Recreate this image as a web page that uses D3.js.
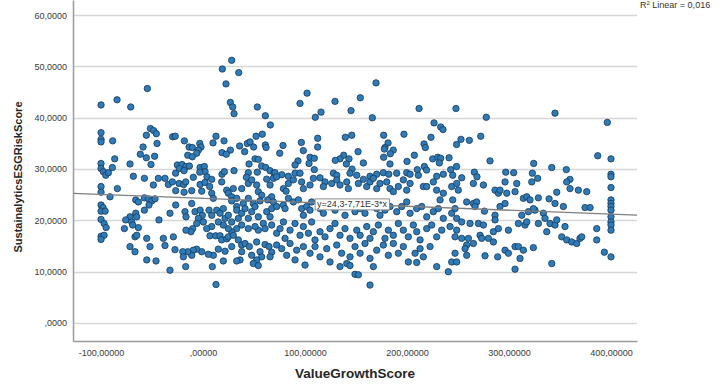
<!DOCTYPE html>
<html>
<head>
<meta charset="utf-8">
<script src="https://cdn.jsdelivr.net/npm/d3@7"></script>
<style>
  html, body { margin: 0; padding: 0; background: #fff; }
  svg { display: block; }
  text { font-family: "Liberation Sans", Arial, sans-serif; }
</style>
</head>
<body>
<svg id="chart" width="727" height="385"></svg>
<script>
// ValueGrowthScore (x) vs SustainalyticsESGRiskScore (y), one pair per fund
const scores = [
  // upper band
  [28.1,51.2],[18.9,49.5],[35,48.8],[22.5,46.6],[-54.6,45.7],[-100,42.5],[-84.3,43.5],[-70.9,42.1],
  [26.8,43.0],[29.1,42.1],[30.4,40.8],[53.2,42.1],[61.1,40.4],[66,38.6],[-100,37.1],[-100,35.8],
  [-100,35.3],[-88.6,35.5],[-51.6,37.9],[-48.4,37.5],[-45.8,36.9],[-55.6,36.6],[-45.1,35.0],[-58.8,34.3],
  [-61.5,32.9],[-55.6,32.2],[-47.5,32.5],[-86.6,32.0],[-100,31.1],[-71.6,31.0],[-51,30.9],[-100,30.1],
  [-97.7,29.5],[-95.4,28.8],[-92.8,29.3],[-88.9,30.3],[-68.3,28.6],[-57.5,28.2],[-43.8,28.2],[-37.3,28.2],
  [-29.8,36.3],[-27.2,36.4],[-18.3,35.5],[-13.7,34.3],[-10.5,34.2],[-3.2,35.0],[-2,34.3],[-4.6,33.7],
  [-6.2,33.1],[-15,32.7],[-10.5,32.4],[9.8,35.1],[12.7,36.4],[20.6,35.5],[26.8,33.7],[18.6,33.2],
  [22.8,32.9],[35.9,34.5],[43.4,35.0],[46.1,35.3],[49.6,34.3],[40.8,33.4],[52,36.4],[58.1,36.8],
  [61.1,34.7],[61.8,34.2],[-25.2,30.8],[-20.6,30.9],[-16.7,30.5],[-13.4,30.6],[-23.2,30.1],[-2.9,30.3],
  [1.3,30.5],[2,29.5],[-3.2,29.4],[-26.9,29.2],[-18.6,29.7],[-9.5,28.4],[3.9,28.5],[18.6,29.0],
  [20.9,29.5],[30.4,29.7],[45.1,31.0],[51,32.0],[54.2,31.9],[57.5,30.6],[44.4,29.3],[53.2,29.4],
  [42.5,28.4],[61.5,30.3],[65.7,29.7],[69.6,29.2],
  [169.6,46.8],[102,44.8],[95.1,42.8],[129.4,43.2],[154.2,43.9],[115.7,41.1],[110.1,40.1],[145.1,41.4],
  [166,40.0],[211.8,41.8],[248,41.8],[78.4,34.6],[75.2,33.1],[96.4,35.2],[98.3,33.6],[112.4,36.0],
  [112.4,34.3],[104.9,32.3],[109.1,32.1],[103.9,31.1],[93.1,31.6],[90.2,30.8],[109.1,29.9],[139.5,36.2],
  [145.8,36.6],[137.9,32.7],[134.3,32.0],[129.7,31.7],[143.1,32.0],[140.5,31.0],[146.1,30.0],[152,33.4],
  [157.2,31.2],[177.1,36.6],[181.4,35.1],[178.4,34.2],[177.8,33.9],[186.5,33.7],[183.6,33.0],[177.1,32.3],
  [183.3,31.0],[197,36.8],[200,31.5],[207.2,32.7],[216.7,34.9],[218,34.2],[223.5,36.2],[226.5,39.0],
  [233,38.2],[235.3,37.7],[225.2,32.0],[230.1,32.3],[233,32.1],[231.7,31.2],[241.2,32.2],[248.6,34.8],
  [217,30.5],[210.1,29.9],[219.2,29.8],[242.8,29.9],[248.6,30.5],
  [70.6,29.3],[77.2,28.9],[83.6,28.6],[90.2,29.2],[95.1,29.2],[114.7,28.3],[127.8,29.2],[131.1,28.8],
  [144.1,29.2],[150.7,28.8],[163.7,28.6],[170.3,29.0],[176.8,29.3],[182.1,29.0],[189.9,29.2],[199.7,29.3],
  [203,29.0],[211.1,28.8],[229.1,28.6],[235.6,29.0],[244.8,28.8],
  [277.7,40.1],[345.1,40.9],[396.4,39.1],[252.9,35.8],[261.1,35.6],[272.3,36.4],[281.4,31.6],[324.2,31.1],
  [341.9,30.3],[356.2,29.9],[387,32.6],[400,32.0],[266,29.4],[268.6,28.5],[253.6,28.3],
  [296.8,29.4],[304.6,29.3],[322.9,29.2],[328.1,28.2],[400,29.0],[400,28.5],[359.8,28.0],
  // left block, middle and lower band
  [-100,26.6],[-100,25.5],[-100,23.0],[-98,22.5],[-100,21.8],[-96,21.8],[-100,20.2],[-97,19.4],
  [-95,18.6],[-100,16.9],[-97,17.1],[-100,16.3],[-84,26.2],[-91.2,24.6],
  [-48.7,26.9],[-34.0,27.0],[-30.1,27.5],[-26.8,25.8],[-23.5,27.2],[-19.0,27.0],[-17.0,27.5],[-18.6,25.5],
  [-11.1,25.8],[-2.9,27.0],[-1.3,25.7],[1.9,27.4],[6.5,26.6],[8.5,28.0],[8.5,25.3],[10.1,24.3],
  [18.3,27.5],[23.2,25.9],[24.8,25.3],[28.1,24.6],[29.7,26.2],[33.0,24.3],[37.9,26.2],[44.4,27.2],
  [47.7,27.9],[52.6,26.9],[54.2,25.6],[57.5,24.9],[62.4,28.05],[65.7,26.9],[67.3,24.6],[63.4,24.0],
  [55.9,23.8],[49.3,23.3],[44.4,24.3],[39.5,23.3],[33.0,22.7],[28.1,23.8],
  [-66.0,24.0],[-63.4,23.6],[-57.5,24.4],[-53.6,24.2],[-50.3,23.8],[-47.1,24.2],[-53.0,23.0],[-57.5,22.0],
  [-66.0,21.4],[-71.6,20.7],[-75.8,20.1],[-69.9,19.7],[-65.0,20.7],[-63.4,18.6],[-77.1,18.4],[-69.0,19.1],
  [-43.2,20.1],[-32.4,21.4],[-26.8,23.0],[-17.7,21.7],[-16.7,20.7],[-11.1,23.3],[-7.9,21.7],[-2.9,22.0],
  [-0.7,21.0],[-4.6,20.4],[-6.2,19.4],[0.3,19.7],[5.9,22.0],[8.5,21.0],[13.4,22.0],[16.7,21.4],
  [19.9,22.3],[21.6,20.4],[24.8,21.0],[28.1,19.7],[33.0,22.0],[34.6,20.4],[37.9,21.4],[41.2,22.3],
  [44.4,20.4],[47.7,21.7],[51.0,22.7],[54.2,20.7],[59.1,19.4],[62.4,21.7],[65.7,20.7],[67.3,19.1],
  [60.8,18.4],[54.2,18.1],[51.0,18.8],[44.4,18.4],[37.9,19.1],[33.0,18.4],[28.1,17.8],[24.8,18.4],
  [19.9,19.1],[15.0,19.7],[8.5,18.8],[3.6,18.4],[-10.2,18.4],[-11.8,17.8],[-16.7,18.1],
  [-66.7,16.8],[-65.0,17.1],[-55.2,16.5],[-38.9,16.5],[-29.1,16.8],[6.8,17.0],[12.4,17.0],[16.7,17.0],
  [18.3,16.2],[23.2,16.4],[24.8,16.8],[29.7,17.1],[34.6,16.2],[37.9,15.2],[41.2,15.5],[45.4,14.9],
  [47.7,13.2],[52.6,15.8],[55.9,13.9],[60.8,15.3],[64.7,14.9],[67.3,13.8],[65.7,12.9],[57.5,12.9],
  [52.6,12.3],[49.3,11.6],[54.2,11.2],[37.9,13.9],[36.3,12.3],[33.0,12.1],[28.1,14.9],[21.6,14.0],
  [15.0,14.4],[10.1,13.2],[5.2,13.4],[-1.3,13.9],[-6.2,14.4],[-9.5,14.2],[-11.1,13.2],[-15.0,13.9],
  [-19.9,13.9],[-19.3,12.9],[-27.5,14.3],[-37.3,15.1],[-52.0,14.9],[-71.6,14.9],[-66.7,13.9],[-55.2,12.3],
  [-46.1,12.1],[-32.4,10.3],[-17.0,11.0],[9.1,11.0],[19.9,12.1],[12.7,7.5],
  // centre block
  [69.0,28.2],[72.2,28.5],[78.8,26.2],[81.4,25.7],[83.7,27.2],[88.6,27.9],[96.7,27.5],[98.4,26.2],
  [104.9,26.9],[108.2,28.2],[119.6,27.5],[118.0,26.6],[126.2,27.2],[131.1,27.9],[134.3,26.9],[140.9,27.5],
  [142.5,26.2],[152.3,27.2],[157.2,28.0],[160.5,26.6],[163.7,27.5],[167.0,28.2],[170.3,26.2],[173.5,27.2],
  [180.1,27.5],[183.3,26.2],[186.6,25.6],[191.5,26.6],[196.4,27.9],[199.7,25.9],[203.0,27.2],[216.0,26.6],
  [219.3,26.6],[225.8,27.5],[229.1,25.9],[232.4,24.0],[235.6,25.3],[243.8,26.6],[244.8,24.0],[250.3,25.9],
  [69.0,23.6],[67.3,22.3],[72.2,22.7],[78.8,23.0],[80.4,22.3],[83.7,24.3],[88.6,23.6],[93.5,24.0],
  [96.7,22.3],[98.4,21.0],[101.6,22.7],[104.9,22.0],[106.5,23.6],[114.7,22.3],[118.0,21.4],[122.9,23.0],
  [129.4,22.0],[134.3,22.7],[139.2,21.0],[144.1,23.0],[149.0,21.7],[154.0,22.3],[158.8,21.4],[163.7,23.0],
  [170.3,22.3],[173.5,21.0],[178.4,22.0],[183.3,22.7],[189.9,21.7],[194.8,22.7],[199.7,23.6],[203.0,21.4],
  [209.5,22.3],[214.4,22.7],[219.3,20.7],[225.8,21.7],[230.7,22.3],[235.6,20.4],[243.8,21.4],[248.7,20.4],
  [72.2,17.5],[75.5,18.4],[78.8,19.7],[80.4,16.5],[85.3,18.1],[90.2,19.4],[95.1,17.1],[98.4,18.8],
  [103.3,17.5],[106.5,19.7],[109.8,16.2],[114.7,17.8],[119.6,16.8],[124.5,18.4],[129.4,19.4],[134.3,17.1],
  [139.2,18.4],[144.1,16.5],[150.7,18.1],[154.0,17.1],[160.5,18.8],[163.7,16.5],[167.0,17.8],[171.9,19.1],
  [178.4,16.5],[181.7,18.1],[186.6,17.1],[191.5,19.4],[196.4,18.1],[201.3,16.8],[206.2,19.1],[209.5,17.8],
  [212.8,16.2],[219.3,18.4],[224.2,19.1],[229.1,16.8],[234.0,18.1],[242.2,18.8],[247.1,16.8],
  [72.2,15.2],[77.1,14.5],[82.0,13.2],[85.3,15.5],[90.2,12.3],[91.8,14.2],[98.4,14.9],[100.0,11.3],
  [104.9,13.6],[109.8,14.9],[114.7,12.9],[121.3,14.5],[124.5,11.9],[131.1,15.2],[135.9,13.6],[140.9,11.6],
  [144.1,12.9],[149.0,14.9],[154.0,13.6],[158.8,15.5],[163.7,12.6],[170.3,14.2],[176.8,15.2],[181.7,13.2],
  [186.6,15.5],[191.5,13.6],[196.4,14.9],[201.3,11.9],[207.9,13.6],[209.5,11.8],[212.8,14.5],[216.0,12.9],
  [222.6,14.9],[229.1,11.0],[240.5,10.0],[243.8,11.9],[247.1,13.6],
  [134.3,11.0],[144.1,11.2],[149.0,9.5],[152.3,9.4],[167.0,11.0],[163.7,7.4],
  // right block
  [248.7,27.2],[265.1,27.2],[274.9,26.9],[286.3,25.9],[289.6,25.3],[291.2,25.9],[297.8,25.3],[296.1,27.5],
  [307.6,27.2],[305.9,25.6],[314.1,24.3],[317.4,24.6],[320.6,24.0],[322.3,27.5],[328.8,24.4],[325.5,22.0],
  [339.3,24.2],[346.8,25.5],[345.1,23.3],[353.3,22.7],[356.6,27.5],[359.8,26.2],[368.0,25.9],[374.5,22.5],
  [379.5,22.5],[376.2,25.6],
  [400,26.4],[400,24.0],[400,23.3],[400,22.7],[400,22.0],[400,20.7],[400,19.7],[400,19.1],[400,18.1],
  [386.0,18.4],[386.0,16.2],[393.5,13.8],[400,12.9],
  [258.5,23.6],[265.1,23.3],[268.3,23.6],[266.7,22.7],[275.9,21.8],[286.3,21.0],[286.3,20.1],[291.2,22.7],
  [296.1,23.3],[247.1,22.3],[253.6,19.7],[261.8,19.4],[270.0,19.4],[274.9,19.1],[284.7,17.8],[289.6,18.4],
  [299.4,18.1],[309.2,19.4],[312.5,21.0],[315.7,19.1],[319.0,21.7],[317.4,19.7],[323.9,22.3],[328.8,19.4],
  [333.7,21.4],[335.3,20.4],[337.0,17.8],[340.2,19.4],[345.1,19.1],[346.8,20.1],[354.9,18.8],[248.7,18.1],
  [253.6,16.5],[260.2,16.5],[258.5,15.2],[265.1,15.5],[271.6,17.1],[273.2,16.5],[279.8,16.5],[284.7,15.8],
  [296.1,14.2],[299.4,13.6],[305.9,14.9],[309.2,14.9],[314.1,14.2],[323.9,14.7],[310.8,12.6],[305.9,10.5],
  [256.9,14.5],[258.5,13.2],[248.7,11.9],[276.5,13.1],[288.9,12.9],[341.9,11.6],[351.7,16.8],[356.6,16.2],
  [361.5,15.8],[366.4,15.5],[369.6,16.5],[371.3,16.8]
];

// Fitted line reported for the cloud: y = 24,3 - 7,71E-3 * x, R² = 0,016
const fitIntercept = 24.3;
const fitSlope = -7.71e-3;
const fitLabel = "y=24,3-7,71E-3*x";
const rSquaredLabel = "0,016";

const xTicks = [-100, 0, 100, 200, 300, 400];
const yTicks = [0, 10, 20, 30, 40, 50, 60];
const xTitle = "ValueGrowthScore";
const yTitle = "SustainalyticsESGRiskScore";

const svg = d3.select("#chart");
const plot = { left: 73, right: 637, top: 0, bottom: 341 };

const x = d3.scaleLinear().domain([-127.5, 425.5]).range([plot.left, plot.right]);
const y = d3.scaleLinear().domain([-3.5, 62.95]).range([plot.bottom, plot.top]);

// Comma decimals, leading zero dropped as in the statistics package
const fmt = (digits) => (d) => {
  let s = d.toFixed(digits).replace(".", ",");
  if (s.startsWith("0,")) s = s.slice(1);
  return s;
};

// horizontal gridlines
svg.append("g")
  .selectAll("line")
  .data(yTicks)
  .join("line")
  .attr("x1", plot.left).attr("x2", plot.right)
  .attr("y1", d => Math.round(y(d)) + 0.5).attr("y2", d => Math.round(y(d)) + 0.5)
  .attr("stroke", "#d6d6d6").attr("stroke-width", 1.3);

// axes
const xAxis = d3.axisBottom(x).tickValues(xTicks).tickFormat(fmt(5)).tickSize(0).tickPadding(9);
const yAxis = d3.axisLeft(y).tickValues(yTicks).tickFormat(fmt(4)).tickSize(0).tickPadding(6);

const gx = svg.append("g").attr("transform", `translate(0,${plot.bottom})`).call(xAxis);
const gy = svg.append("g").attr("transform", `translate(${plot.left},0)`).call(yAxis);
[gx, gy].forEach(g => {
  g.select(".domain").attr("stroke", "#9a9a9a").attr("stroke-width", 1.5);
  g.selectAll("text").attr("fill", "#3a3a3a").style("font-size", "9px")
    .style("font-family", "'Liberation Sans', Arial, sans-serif");
});

// points
svg.append("g")
  .selectAll("circle")
  .data(scores)
  .join("circle")
  .attr("cx", d => x(d[0]))
  .attr("cy", d => y(d[1]))
  .attr("r", 3.2)
  .attr("fill", "#2f7bb7")
  .attr("stroke", "#173a5c")
  .attr("stroke-width", 0.8);

// fit line across the full x range
const [xa, xb] = x.domain();
svg.append("line")
  .attr("x1", x(xa)).attr("y1", y(fitIntercept + fitSlope * xa))
  .attr("x2", x(xb)).attr("y2", y(fitIntercept + fitSlope * xb))
  .attr("stroke", "#7f7f7f").attr("stroke-width", 1.3);

// equation label centred on the line
const xm = (xa + xb) / 2;
const lab = svg.append("g").attr("transform", `translate(${x(xm) - 3},${y(fitIntercept + fitSlope * xm)})`);
const labText = lab.append("text")
  .attr("text-anchor", "middle").attr("dy", "0.35em")
  .attr("fill", "#333").style("font-size", "9px")
  .text(fitLabel);
const bb = labText.node().getBBox();
lab.insert("rect", "text")
  .attr("x", bb.x - 2).attr("y", bb.y - 0.5)
  .attr("width", bb.width + 4).attr("height", bb.height + 1)
  .attr("fill", "#fff").attr("stroke", "#8c8c8c").attr("stroke-width", 1);

// R² annotation
const r2 = svg.append("text").attr("x", 640).attr("y", 8).attr("fill", "#333").style("font-size", "9px");
r2.append("tspan").text("R");
r2.append("tspan").attr("dy", -3).style("font-size", "6px").text("2");
r2.append("tspan").attr("dy", 3).text(" Linear = " + rSquaredLabel);

// axis titles, centred on the plot area
svg.append("text")
  .attr("x", (plot.left + plot.right) / 2).attr("y", 378)
  .attr("text-anchor", "middle").attr("fill", "#262626")
  .style("font-size", "13.5px").style("font-weight", "bold")
  .text(xTitle);

svg.append("text")
  .attr("transform", "translate(22,177) rotate(-90)")
  .attr("text-anchor", "middle").attr("fill", "#262626")
  .style("font-size", "11px").style("font-weight", "bold")
  .text(yTitle);
</script>
</body>
</html>
